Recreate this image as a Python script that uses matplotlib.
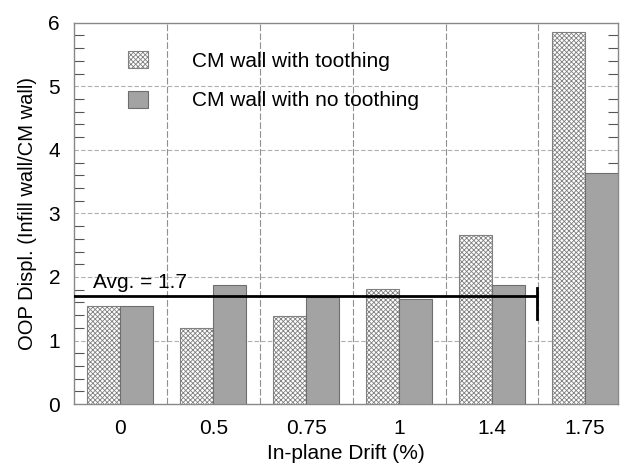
import numpy as np
import matplotlib
matplotlib.use('Agg')
import matplotlib.pyplot as plt
from matplotlib.ticker import MultipleLocator

plt.rcParams['font.family'] = ['Liberation Sans', 'DejaVu Sans']
plt.rcParams['hatch.linewidth'] = 0.6
plt.rcParams['hatch.color'] = '#666666'

# data
drift = ['0', '0.5', '0.75', '1', '1.4', '1.75']
toothing = [1.55, 1.20, 1.39, 1.81, 2.66, 5.86]
no_toothing = [1.54, 1.88, 1.68, 1.66, 1.88, 3.64]
avg_value = 1.7

x = np.arange(len(drift))
w = 0.355

fig = plt.figure(figsize=(6.35, 4.65), dpi=100)
ax = fig.add_axes([0.1165, 0.131, 0.8565, 0.82])

ax.bar(x - w / 2, toothing, w, color='white', edgecolor='#808080', hatch='xxxxxxx',
       linewidth=0.8, label='CM wall with toothing', zorder=3)
ax.bar(x + w / 2, no_toothing, w, color='#a3a3a3', edgecolor='#6e6e6e',
       linewidth=0.8, label='CM wall with no toothing', zorder=3)

# average line with end marker
ax.plot([-0.5, 4.48], [avg_value, avg_value], color='black', lw=2, zorder=4)
ax.plot([4.48, 4.48], [1.34, 1.82], color='black', lw=2, zorder=4)
ax.text(-0.3, 1.76, 'Avg. = 1.7', fontsize=15, ha='left', va='bottom', zorder=5)

ax.set_xlim(-0.5, 5.355)
ax.set_ylim(0, 6)
ax.set_xticks(x)
ax.set_xticklabels(drift, fontsize=15)
ax.tick_params(axis='x', length=0, pad=11)
ax.yaxis.set_major_locator(MultipleLocator(1))
ax.yaxis.set_minor_locator(MultipleLocator(0.2))
ax.tick_params(axis='y', which='both', direction='in', right=True, labelsize=15,
               color='#555555', pad=10)
ax.tick_params(axis='y', which='major', length=0)
ax.tick_params(axis='y', which='minor', length=7, width=0.8)

# grid
for yv in range(1, 6):
    ax.axhline(yv, color='#b0b0b0', lw=0.8, ls=(0, (4, 2)), zorder=1)
for xv in np.arange(0.5, 5, 1):
    ax.axvline(xv, color='#909090', lw=0.8, ls=(0, (6, 2)), zorder=1)

for s in ax.spines.values():
    s.set_color('#888888')
    s.set_linewidth(1.0)

ax.set_xlabel('In-plane Drift (%)', fontsize=15, labelpad=4)
ax.set_ylabel('OOP Displ. (Infill wall/CM wall)', fontsize=14.5, labelpad=8)

ax.legend(loc='upper left', bbox_to_anchor=(128 / 635, 1 - 51 / 465),
          bbox_transform=fig.transFigure, frameon=False, fontsize=15,
          handlelength=0.95, handleheight=0.9, handletextpad=2.1,
          labelspacing=0.95, borderpad=0, borderaxespad=0)

fig.savefig('out.png', dpi=100)
